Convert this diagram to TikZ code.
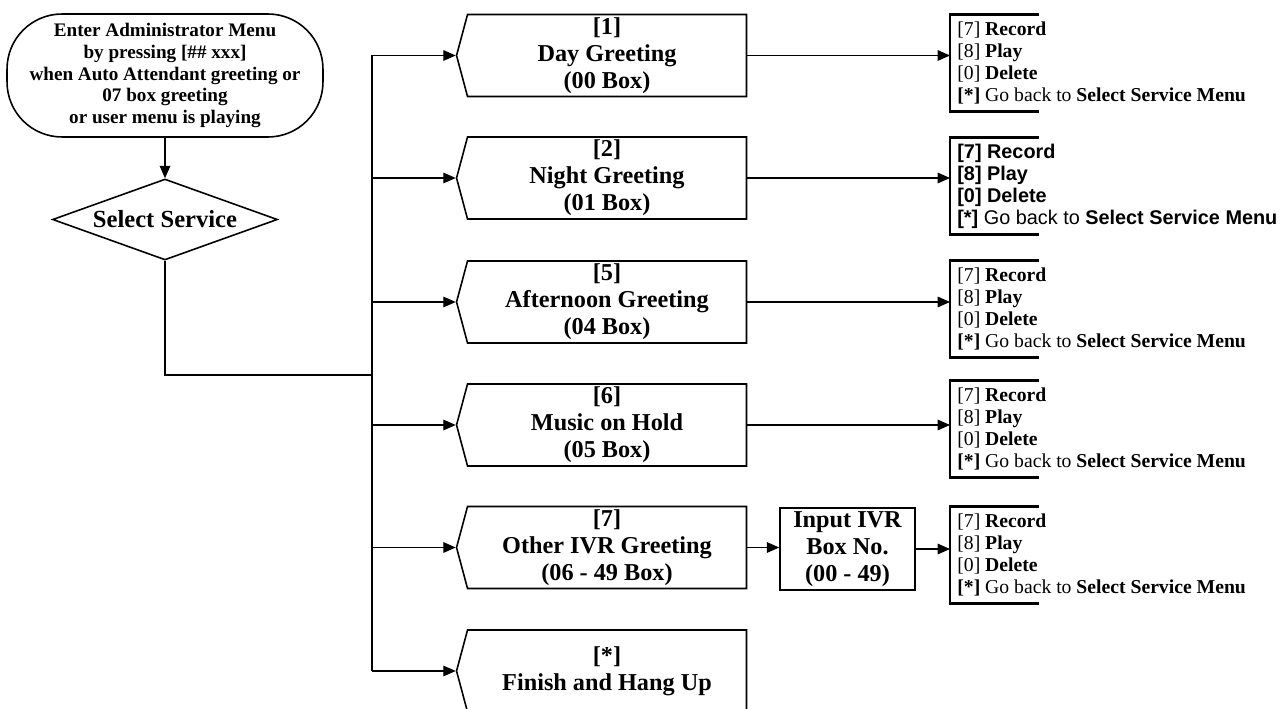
\documentclass[tikz,border=0pt]{standalone}
\usepackage{fontspec}
\setmainfont{Liberation Serif}
\newfontfamily\arialfont{Liberation Sans}
\usetikzlibrary{shapes.geometric,shapes.symbols,arrows.meta}

\newcommand{\recmenu}{[7] \textbf{Record}\\{}[8] \textbf{Play}\\{}[0] \textbf{Delete}\\{}\textbf{[*]} Go back to \textbf{Select Service Menu}}

\tikzset{
  line/.style={line width=0.6pt},
  arr/.style={line width=0.6pt,-{Triangle[length=7pt,width=6pt]}},
  boxfont/.style={font=\fontsize{13.8}{15.4}\selectfont\bfseries},
  choice/.style={draw,line width=0.9pt,signal,signal to=west,signal pointer angle=150,
    minimum width=5.8cm,minimum height=1.64cm,inner sep=0pt,align=center,boxfont},
  menu/.style={anchor=west,minimum height=1.92cm,inner xsep=0.14cm,inner ysep=0pt,
    align=left,font=\fontsize{11.2}{12.35}\selectfont},
  brk/.style={line width=1.6pt},
}

\begin{document}
\begin{tikzpicture}[x=0.02cm,y=-0.02cm]
\useasboundingbox (0,0) rectangle (1284,709);

\node[draw,line width=0.9pt,rounded corners=1.1cm,minimum width=6.32cm,minimum height=2.46cm,
  inner sep=0pt,align=center,font=\fontsize{10.9}{12.35}\selectfont\bfseries] (start) at (165,75.5)
  {Enter Administrator Menu\\by pressing [\#\# xxx]\\when Auto Attendant greeting or\\07 box greeting\\or user menu is playing};
\node[draw,line width=0.9pt,diamond,shape aspect=2.8,minimum width=4.5cm,minimum height=1.62cm,
  inner sep=0pt,font=\fontsize{14}{16}\selectfont\bfseries] (sel) at (165,219.5) {Select Service};

\node[choice] (day) at (607,55.5) {[1]\\Day Greeting\\(00 Box)};
\node[choice] (night) at (607,178) {[2]\\Night Greeting\\(01 Box)};
\node[choice] (aft) at (607,302) {[5]\\Afternoon Greeting\\(04 Box)};
\node[choice] (moh) at (607,425) {[6]\\Music on Hold\\(05 Box)};
\node[choice] (ivr) at (607,547.5) {[7]\\Other IVR Greeting\\(06 - 49 Box)};
\node[choice] (fin) at (607,671) {[*]\\Finish and Hang Up};

\node[draw,line width=0.9pt,minimum width=2.7cm,minimum height=1.64cm,inner sep=0pt,
  align=center,boxfont] (ivrno) at (847.5,549) {Input IVR\\Box No.\\(00 - 49)};

\node[menu] (daymenu) at (950,63) {\recmenu};
\node[menu,font=\fontsize{11.3}{12.5}\selectfont\arialfont] (nightmenu) at (950,186)
  {\textbf{[7] Record}\\\textbf{[8] Play}\\\textbf{[0] Delete}\\\textbf{[*]} Go back to \textbf{Select Service Menu}};
\node[menu] (aftmenu) at (950,309) {\recmenu};
\node[menu] (mohmenu) at (950,429) {\recmenu};
\node[menu] (ivrmenu) at (950,555) {\recmenu};

% brackets round the menus
\draw[brk] ([xshift=1.78cm]daymenu.north west) -- (daymenu.north west) -- (daymenu.south west) -- ++(1.78cm,0);
\draw[brk] ([xshift=1.78cm]nightmenu.north west) -- (nightmenu.north west) -- (nightmenu.south west) -- ++(1.78cm,0);
\draw[brk] ([xshift=1.78cm]aftmenu.north west) -- (aftmenu.north west) -- (aftmenu.south west) -- ++(1.78cm,0);
\draw[brk] ([xshift=1.78cm]mohmenu.north west) -- (mohmenu.north west) -- (mohmenu.south west) -- ++(1.78cm,0);
\draw[brk] ([xshift=1.78cm]ivrmenu.north west) -- (ivrmenu.north west) -- (ivrmenu.south west) -- ++(1.78cm,0);

% connectors
\coordinate (jn) at (372,375);
\draw[arr] (start) -- (sel);
\draw[line] (sel.south) |- (jn);
\draw[line] (jn |- day.west) -- (jn |- fin.west);
\draw[arr] (jn |- day.west) -- (day.west);
\draw[arr] (jn |- night.west) -- (night.west);
\draw[arr] (jn |- aft.west) -- (aft.west);
\draw[arr] (jn |- moh.west) -- (moh.west);
\draw[arr] (jn |- ivr.west) -- (ivr.west);
\draw[arr] (jn |- fin.west) -- (fin.west);

\draw[arr] (day.east) -- (day.east -| daymenu.west);
\draw[arr] (night.east) -- (night.east -| nightmenu.west);
\draw[arr] (aft.east) -- (aft.east -| aftmenu.west);
\draw[arr] (moh.east) -- (moh.east -| mohmenu.west);
\draw[arr] (ivr.east) -- (ivr.east -| ivrno.west);
\draw[arr] (ivrno.east) -- (ivrno.east -| ivrmenu.west);
\end{tikzpicture}
\end{document}
